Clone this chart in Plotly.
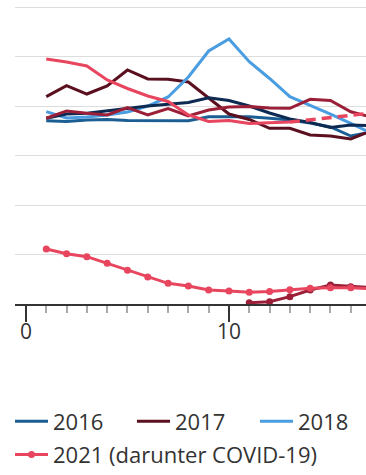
import plotly.graph_objects as go

weeks = list(range(1, 18))
weeks_2021_solid = list(range(1, 14))
weeks_2021_prelim = list(range(13, 18))
weeks_covid_2020 = list(range(11, 18))

deaths_2016 = [18500, 18430, 18590, 18640, 18540, 18520, 18520, 18520, 18920, 18940, 18920, 18760, 18590, 18280, 17880, 16970, 17370]
deaths_2017 = [20940, 22050, 21210, 22020, 23640, 22730, 22700, 22420, 20810, 19190, 18640, 17750, 17750, 17070, 16970, 16670, 17480]
deaths_2018 = [19430, 18790, 18890, 19090, 19390, 20000, 20910, 22930, 25560, 26770, 24480, 22780, 20940, 20100, 19190, 18250, 17270]
deaths_2019 = [18760, 19190, 19260, 19500, 19770, 20000, 20170, 20350, 20840, 20560, 20000, 19290, 18690, 18330, 17830, 18080, 18030]
deaths_2020 = [18760, 19500, 19260, 19090, 19830, 19090, 19730, 18990, 19600, 19900, 19950, 19800, 19770, 20680, 20560, 19420, 18890]
deaths_2021 = [24750, 24440, 24040, 22630, 21770, 21010, 20460, 19090, 18430, 18540, 18230, 18280, 18380]
deaths_2021_prelim = [18380, 18590, 18790, 19060, 19290]
covid_2021 = [5560, 5080, 4780, 4110, 3400, 2730, 2090, 1820, 1410, 1310, 1180, 1250, 1450, 1580, 1650, 1650, 1550]
covid_2020 = [130, 230, 740, 1410, 1920, 1750, 1650]

C2016 = "#1b5e94"
C2017 = "#5b1020"
C2018 = "#4a9de0"
C2019 = "#0d2b52"
C2020 = "#9c1f38"
C2021 = "#e8455e"

fig = go.Figure()
fig.add_trace(go.Scatter(x=weeks, y=deaths_2016, mode="lines", name="2016",
                         line=dict(color=C2016, width=3), legend="legend"))
fig.add_trace(go.Scatter(x=weeks, y=deaths_2017, mode="lines", name="2017",
                         line=dict(color=C2017, width=3), legend="legend2"))
fig.add_trace(go.Scatter(x=weeks, y=deaths_2018, mode="lines", name="2018",
                         line=dict(color=C2018, width=3), legend="legend3"))
fig.add_trace(go.Scatter(x=weeks, y=deaths_2019, mode="lines", name="2019",
                         line=dict(color=C2019, width=3), showlegend=False))
fig.add_trace(go.Scatter(x=weeks, y=deaths_2020, mode="lines", name="2020",
                         line=dict(color=C2020, width=3), showlegend=False))
fig.add_trace(go.Scatter(x=weeks_covid_2020, y=covid_2020, mode="lines+markers",
                         name="2020 (darunter COVID-19)",
                         line=dict(color=C2020, width=3), marker=dict(size=7, color=C2020),
                         showlegend=False))
fig.add_trace(go.Scatter(x=weeks_2021_solid, y=deaths_2021, mode="lines", name="2021",
                         line=dict(color=C2021, width=3), showlegend=False))
fig.add_trace(go.Scatter(x=weeks_2021_prelim, y=deaths_2021_prelim, mode="lines",
                         name="2021 (vorläufig)",
                         line=dict(color=C2021, width=3.5, dash="10px,6px"), showlegend=False))
fig.add_trace(go.Scatter(x=weeks, y=covid_2021, mode="lines+markers",
                         name="2021 (darunter COVID-19)",
                         line=dict(color=C2021, width=3), marker=dict(size=7, color=C2021),
                         legend="legend4"))

def leg(x, y):
    return dict(orientation="h", xref="container", yref="container",
                x=x, xanchor="left", y=y, yanchor="top", itemwidth=33,
                font=dict(size=22, color="#333"), bgcolor="rgba(0,0,0,0)")

fig.update_layout(
    width=366, height=475,
    margin=dict(l=15, r=0, t=0, b=171),
    paper_bgcolor="white", plot_bgcolor="white",
    font=dict(family="Open Sans, sans-serif", size=21, color="#333"),
    showlegend=True,
    legend=leg(10 / 366, 0.1568),
    legend2=leg(132 / 366, 0.1568),
    legend3=leg(255 / 366, 0.1568),
    legend4=leg(10 / 366, 0.0867),
    xaxis=dict(range=[-0.54, 16.75], showgrid=False, zeroline=False,
               showline=True, linecolor="#333", linewidth=1.5,
               tickmode="linear", tick0=0, dtick=10,
               ticks="outside", ticklen=16, tickwidth=1.5, tickcolor="#333",
               ticklabelstandoff=-8,
               tickfont=dict(size=21, color="#333"),
               minor=dict(dtick=1, tick0=0, ticks="outside", ticklen=7,
                          tickwidth=1.5, tickcolor="#aaa", showgrid=False)),
    yaxis=dict(range=[0, 30707], showgrid=True, gridcolor="#ddd", gridwidth=1,
               tickmode="linear", tick0=0, dtick=5000,
               showticklabels=False, zeroline=False, ticks=""),
)

fig.write_html("out.html", config={"displayModeBar": False},
               post_script="document.body.style.margin='0';")
